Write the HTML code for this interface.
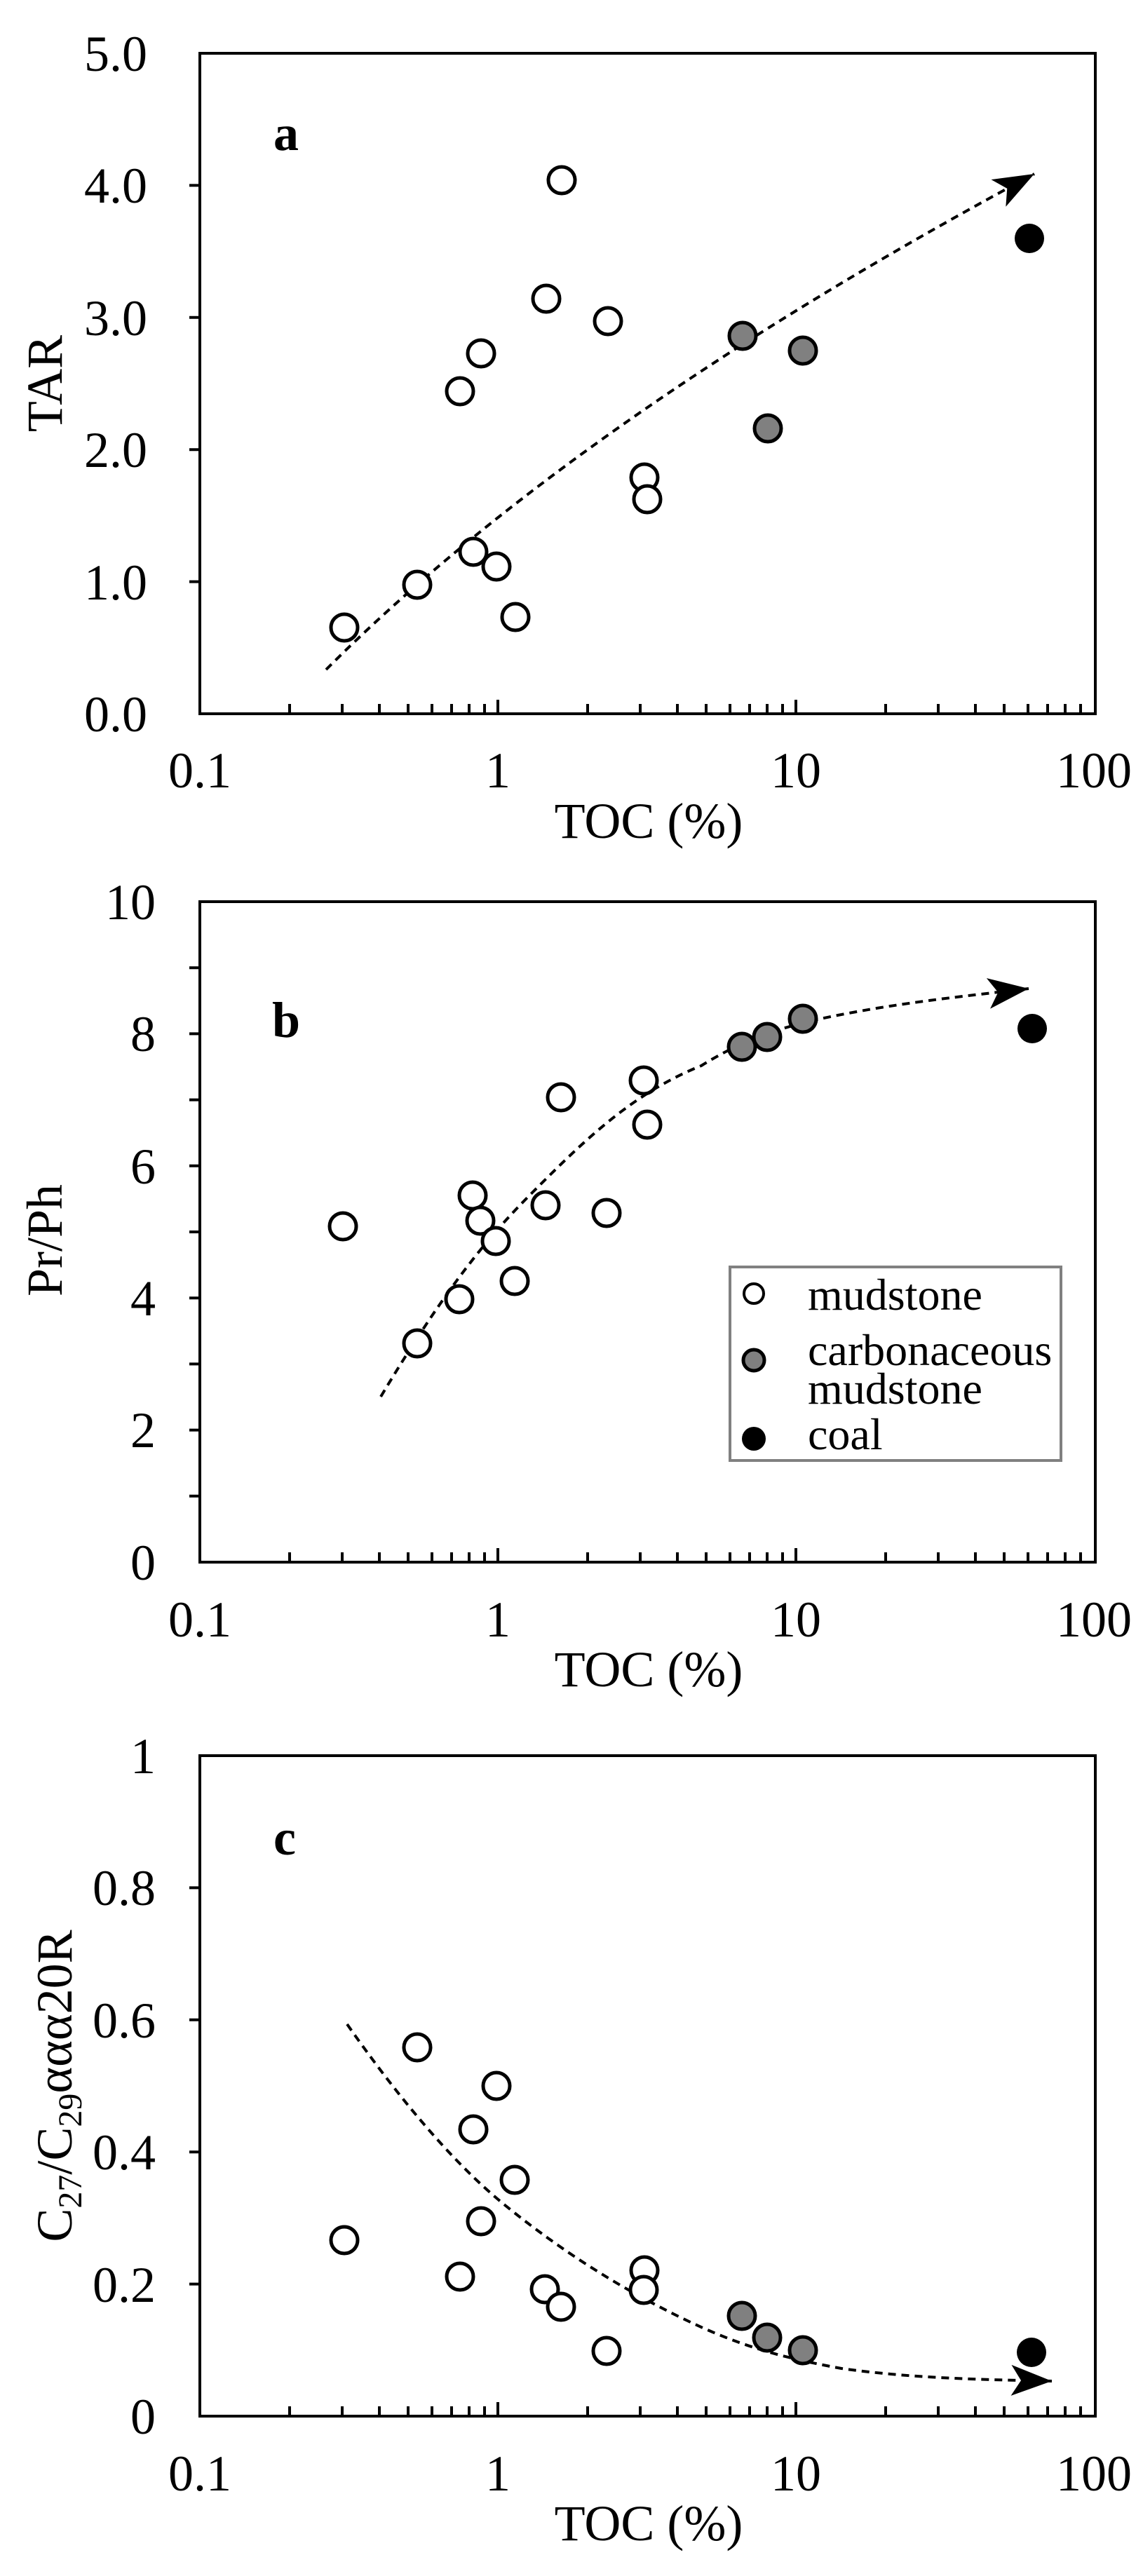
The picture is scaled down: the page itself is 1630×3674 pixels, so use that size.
<!DOCTYPE html>
<html><head><meta charset="utf-8"><style>
html,body{margin:0;padding:0;background:#fff}
svg{display:block}
text{font-family:"Liberation Serif",serif;fill:#000}
</style></head><body>
<svg width="1630" height="3674" viewBox="0 0 1630 3674" xmlns="http://www.w3.org/2000/svg">
<defs>
<marker id="ah" viewBox="0 0 60 44" refX="58" refY="22" markerWidth="60" markerHeight="44" markerUnits="userSpaceOnUse" orient="auto">
<path d="M58,22 L0,0 L14,22 L0,44 Z" fill="#000"/>
</marker>
<g id="xt">
<path d="M413,0v-14M488,0v-14M541,0v-14M582,0v-14M616,0v-14M644,0v-14M669,0v-14M691,0v-14M710,0v-20M838,0v-14M913,0v-14M966,0v-14M1007,0v-14M1041,0v-14M1069,0v-14M1094,0v-14M1116,0v-14M1135,0v-20M1263,0v-14M1338,0v-14M1391,0v-14M1432,0v-14M1466,0v-14M1494,0v-14M1519,0v-14M1541,0v-14" stroke="#000" stroke-width="4"/>
</g>
</defs>

<!-- ===== Panel a ===== -->
<rect x="285" y="76" width="1277" height="942" fill="none" stroke="#000" stroke-width="4"/>
<use href="#xt" y="1018"/>
<path d="M285,829.6h-15M285,641.2h-15M285,452.8h-15M285,264.4h-15" stroke="#000" stroke-width="4"/>
<g font-size="72" text-anchor="end">
<text x="210" y="1043">0.0</text><text x="210" y="855">1.0</text><text x="210" y="666">2.0</text><text x="210" y="478">3.0</text><text x="210" y="289">4.0</text><text x="210" y="101">5.0</text>
</g>
<g font-size="72" text-anchor="middle">
<text x="285" y="1123">0.1</text><text x="710" y="1123">1</text><text x="1135" y="1123">10</text><text x="1560" y="1123">100</text>
<text x="925" y="1195">TOC (%)</text>
</g>
<text transform="translate(88,547) rotate(-90)" font-size="72" text-anchor="middle">TAR</text>
<text x="390" y="214" font-size="72" font-weight="bold">a</text>
<path d="M465,955 Q820,600 1475,248" fill="none" stroke="#000" stroke-width="4" stroke-dasharray="11,8" marker-end="url(#ah)"/>
<g fill="#fff" stroke="#000" stroke-width="5">
<circle cx="491" cy="895" r="19"/><circle cx="595" cy="834" r="19"/><circle cx="656" cy="558" r="19"/>
<circle cx="675" cy="787" r="19"/><circle cx="686" cy="504" r="19"/><circle cx="708" cy="808" r="19"/>
<circle cx="735" cy="880" r="19"/><circle cx="779" cy="426" r="19"/><circle cx="801" cy="257" r="19"/>
<circle cx="867" cy="458" r="19"/><circle cx="919" cy="681" r="19"/><circle cx="923" cy="712" r="19"/>
</g>
<g fill="#808080" stroke="#000" stroke-width="5">
<circle cx="1059" cy="479" r="19"/><circle cx="1095" cy="611" r="19"/><circle cx="1145" cy="500" r="19"/>
</g>
<circle cx="1468" cy="340" r="21" fill="#000"/>

<!-- ===== Panel b ===== -->
<rect x="285" y="1286" width="1277" height="942" fill="none" stroke="#000" stroke-width="4"/>
<use href="#xt" y="2228"/>
<path d="M285,2133.8h-15M285,2039.6h-15M285,1945.4h-15M285,1851.2h-15M285,1757h-15M285,1662.8h-15M285,1568.6h-15M285,1474.4h-15M285,1380.2h-15" stroke="#000" stroke-width="4"/>
<g font-size="72" text-anchor="end">
<text x="222" y="2253">0</text><text x="222" y="2064">2</text><text x="222" y="1876">4</text><text x="222" y="1688">6</text><text x="222" y="1499">8</text><text x="222" y="1311">10</text>
</g>
<g font-size="72" text-anchor="middle">
<text x="285" y="2334">0.1</text><text x="710" y="2334">1</text><text x="1135" y="2334">10</text><text x="1560" y="2334">100</text>
<text x="925" y="2405">TOC (%)</text>
</g>
<text transform="translate(88,1769) rotate(-90)" font-size="72" text-anchor="middle">Pr/Ph</text>
<text x="388" y="1479" font-size="72" font-weight="bold">b</text>
<path d="M543,1992 C640,1830 700,1760 760,1700 C830,1630 900,1560 1000,1520 C1080,1470 1150,1455 1250,1438 C1330,1425 1400,1418 1467,1410" fill="none" stroke="#000" stroke-width="4" stroke-dasharray="11,8" marker-end="url(#ah)"/>
<g fill="#fff" stroke="#000" stroke-width="5">
<circle cx="489" cy="1749" r="19"/><circle cx="595" cy="1916" r="19"/><circle cx="655" cy="1853" r="19"/>
<circle cx="674" cy="1705" r="19"/><circle cx="685" cy="1741" r="19"/><circle cx="707" cy="1770" r="19"/>
<circle cx="734" cy="1827" r="19"/><circle cx="778" cy="1719" r="19"/><circle cx="800" cy="1565" r="19"/>
<circle cx="865" cy="1730" r="19"/><circle cx="918" cy="1541" r="19"/><circle cx="923" cy="1604" r="19"/>
</g>
<g fill="#808080" stroke="#000" stroke-width="5">
<circle cx="1058" cy="1493" r="19"/><circle cx="1094" cy="1479" r="19"/><circle cx="1145" cy="1453" r="19"/>
</g>
<circle cx="1472" cy="1467" r="21" fill="#000"/>
<!-- legend -->
<rect x="1041" y="1807" width="472" height="276" fill="#fff" stroke="#808080" stroke-width="4"/>
<circle cx="1075" cy="1845" r="14" fill="#fff" stroke="#000" stroke-width="4"/>
<circle cx="1075" cy="1940" r="15" fill="#808080" stroke="#000" stroke-width="5"/>
<circle cx="1075" cy="2052" r="17" fill="#000"/>
<g font-size="64">
<text x="1152" y="1868">mudstone</text>
<text x="1152" y="1947">carbonaceous</text>
<text x="1152" y="2002">mudstone</text>
<text x="1152" y="2067">coal</text>
</g>

<!-- ===== Panel c ===== -->
<rect x="285" y="2504" width="1277" height="942" fill="none" stroke="#000" stroke-width="4"/>
<use href="#xt" y="3446"/>
<path d="M285,3257.6h-15M285,3069.2h-15M285,2880.8h-15M285,2692.4h-15" stroke="#000" stroke-width="4"/>
<g font-size="72" text-anchor="end">
<text x="222" y="3471">0</text><text x="222" y="3283">0.2</text><text x="222" y="3094">0.4</text><text x="222" y="2906">0.6</text><text x="222" y="2717">0.8</text><text x="222" y="2529">1</text>
</g>
<g font-size="72" text-anchor="middle">
<text x="285" y="3552">0.1</text><text x="710" y="3552">1</text><text x="1135" y="3552">10</text><text x="1560" y="3552">100</text>
<text x="925" y="3623">TOC (%)</text>
</g>
<text transform="translate(102,2975) rotate(-90)" font-size="72" text-anchor="middle">C<tspan font-size="48" dy="14">27</tspan><tspan dy="-14">/C</tspan><tspan font-size="48" dy="14">29</tspan><tspan dy="-14">ααα20R</tspan></text>
<text x="390" y="2645" font-size="72" font-weight="bold">c</text>
<path d="M495,2887 C560,2980 640,3080 720,3145 C800,3210 880,3260 960,3300 C1040,3340 1100,3360 1200,3378 C1300,3392 1400,3394 1500,3396" fill="none" stroke="#000" stroke-width="4" stroke-dasharray="11,8" marker-end="url(#ah)"/>
<g fill="#fff" stroke="#000" stroke-width="5">
<circle cx="491" cy="3195" r="19"/><circle cx="595" cy="2920" r="19"/><circle cx="656" cy="3247" r="19"/>
<circle cx="675" cy="3037" r="19"/><circle cx="686" cy="3168" r="19"/><circle cx="708" cy="2975" r="19"/>
<circle cx="734" cy="3109" r="19"/><circle cx="777" cy="3265" r="19"/><circle cx="800" cy="3290" r="19"/>
<circle cx="865" cy="3353" r="19"/><circle cx="919" cy="3238" r="19"/><circle cx="918" cy="3266" r="19"/>
</g>
<g fill="#808080" stroke="#000" stroke-width="5">
<circle cx="1058" cy="3303" r="19"/><circle cx="1094" cy="3334" r="19"/><circle cx="1145" cy="3352" r="19"/>
</g>
<circle cx="1471" cy="3355" r="21" fill="#000"/>
</svg>
</body></html>
